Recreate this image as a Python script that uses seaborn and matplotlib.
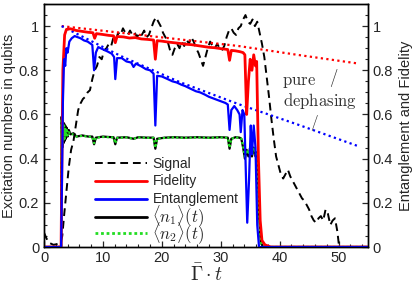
import matplotlib
matplotlib.use("Agg")
import matplotlib.pyplot as plt
from matplotlib.ticker import MultipleLocator
from matplotlib.lines import Line2D
import seaborn as sns

# ---------------- data ----------------
sig_t = [0, 0.4, 0.8, 1.2, 1.6, 2.0, 2.4, 2.8, 3.1, 3.4, 3.8, 4.2, 4.6, 5.0, 5.4, 5.8, 6.2, 6.6, 7.0,
         7.4, 7.8, 8.2, 8.6, 9.0, 9.4, 9.8, 10.2, 10.6, 11.0, 11.4, 11.8, 12.2, 12.6, 13.0, 13.4, 13.8,
         14.2, 14.6, 15.0, 15.4, 15.8, 16.2, 16.6, 17.0, 17.4, 17.8, 18.2, 18.6, 19.0, 19.4, 19.8, 20.2,
         20.6, 21.0, 21.4, 21.8, 22.2, 22.6, 23.0, 23.4, 23.8, 24.2, 24.6, 25.0, 25.4, 25.8, 26.2, 26.6,
         27.0, 27.4, 27.8, 28.2, 28.6, 29.0, 29.4, 29.8, 30.2, 30.6, 31.0, 31.4, 31.8, 32.2, 32.6, 33.0,
         33.4, 33.8, 34.2, 34.6, 35.0, 35.4, 35.8, 36.2, 36.6, 37.0, 37.4, 37.8, 38.2, 38.6, 39.0, 39.4,
         39.8, 40.2, 40.6, 41.0, 41.4, 41.8, 42.2, 42.6, 43.0, 43.4, 43.8, 44.2, 44.6, 45.0, 45.4, 45.8,
         46.2, 46.6, 47.0, 47.4, 47.8, 48.2, 48.6, 49.0, 49.4, 49.8, 50.1]
sig_v = [0.065, 0.04, 0.02, 0.015, 0.01, 0.012, 0.015, 0.02, 0.05, 0.14, 0.25, 0.36, 0.44, 0.48, 0.55,
         0.62, 0.65, 0.67, 0.68, 0.70, 0.71, 0.76, 0.80, 0.82, 0.86, 0.85, 0.89, 0.90, 0.92, 0.91, 0.95,
         0.94, 0.97, 0.96, 0.99, 0.97, 0.96, 0.98, 0.96, 0.97, 0.95, 0.97, 0.96, 0.98, 0.95, 0.96, 0.99,
         1.02, 1.04, 1.02, 1.00, 0.97, 0.95, 0.93, 0.89, 0.87, 0.90, 0.92, 0.90, 0.93, 0.91, 0.94, 0.92,
         0.95, 0.93, 0.90, 0.88, 0.85, 0.82, 0.86, 0.90, 0.93, 0.91, 0.90, 0.92, 0.90, 0.89, 0.91, 0.95,
         0.98, 0.99, 0.97, 0.96, 0.99, 1.00, 1.03, 1.05, 1.02, 1.01, 1.03, 1.00, 1.02, 0.97, 0.92, 0.86,
         0.77, 0.68, 0.58, 0.49, 0.41, 0.37, 0.33, 0.31, 0.33, 0.35, 0.32, 0.30, 0.28, 0.26, 0.24, 0.22,
         0.21, 0.19, 0.17, 0.14, 0.12, 0.11, 0.13, 0.14, 0.12, 0.17, 0.15, 0.10, 0.12, 0.13, 0.07, 0.0]

fid_t = [0, 2.9, 3.0, 3.2, 3.5, 3.8, 4.5, 5.5, 6.5, 7.5, 8.3, 8.6, 8.9, 10, 11, 11.8, 12.1, 12.4, 13.5,
         14.5, 15.5, 16.5, 17.5, 18.6, 18.9, 19.2, 20, 21, 22, 23, 24, 25, 26, 27, 28, 29, 30, 31.2,
         31.5, 31.8, 32.5, 33.3, 33.8, 34.1, 34.4, 34.7, 35.0, 35.3, 35.6, 35.9, 36.1, 36.4, 36.7, 37.0,
         37.5, 38.5, 55]
fid_v = [0, 0, 0.3, 0.8, 0.96, 0.985, 0.988, 0.98, 0.976, 0.972, 0.97, 0.945, 0.966, 0.962, 0.958,
         0.956, 0.925, 0.953, 0.951, 0.946, 0.948, 0.942, 0.94, 0.937, 0.85, 0.934, 0.932, 0.928, 0.925,
         0.922, 0.918, 0.916, 0.912, 0.908, 0.904, 0.902, 0.898, 0.894, 0.845, 0.89, 0.888, 0.884, 0.88,
         0.87, 0.6, 0.75, 0.85, 0.80, 0.87, 0.82, 0.84, 0.4, 0.12, 0.03, 0.01, 0.0, 0.0]

ent_t = [0, 2.9, 3.05, 3.2, 3.4, 3.6, 3.8, 4.0, 4.3, 4.7, 5.2, 5.7, 6.2, 6.8, 7.4, 8.2, 8.5, 8.8, 9.2,
         10, 10.8, 11.5, 11.9, 12.1, 12.4, 13.2, 14, 14.8, 15.2, 15.6, 16.5, 17.3, 18.0, 18.6, 18.9,
         19.2, 20, 21, 21.8, 22.5, 23.3, 24, 25, 25.8, 26.5, 27.3, 28, 28.8, 29.5, 30.2, 30.8, 31.2,
         31.5, 31.8, 32.3, 32.8, 33.2, 33.4, 33.7, 34.0, 34.3, 34.5, 34.8, 35.1, 35.3, 35.6, 35.9,
         36.2, 36.5, 55]
ent_v = [0, 0, 0.3, 0.65, 0.85, 0.82, 0.9, 0.88, 0.93, 0.945, 0.955, 0.95, 0.945, 0.935, 0.93, 0.915,
         0.80, 0.88, 0.905, 0.895, 0.885, 0.875, 0.86, 0.76, 0.855, 0.855, 0.84, 0.835, 0.815, 0.83,
         0.818, 0.805, 0.8, 0.785, 0.55, 0.775, 0.772, 0.76, 0.75, 0.745, 0.735, 0.728, 0.715, 0.705,
         0.7, 0.69, 0.68, 0.672, 0.665, 0.658, 0.652, 0.645, 0.53, 0.62, 0.638, 0.62, 0.6, 0.52, 0.62,
         0.6, 0.3, 0.11, 0.3, 0.55, 0.42, 0.55, 0.45, 0.1, 0.0, 0.0]

n_t = [0, 2.9, 3.0, 3.1, 3.2, 3.3, 3.4, 3.5, 3.6, 3.7, 3.85, 4.0, 4.2, 4.5, 5.0, 5.5, 6.5, 7.5, 8.2,
       8.5, 8.8, 10, 11, 11.8, 12.1, 12.4, 14, 15.2, 16, 17.5, 18.6, 18.9, 19.2, 20.5, 22, 24, 26, 28,
       30, 31.2, 31.5, 31.8, 32.5, 33.2, 33.5, 33.8, 34.1, 34.4, 34.7, 35.0, 35.3, 35.6, 35.9, 36.2,
       36.5, 36.8, 37.2, 55]
n1_v = [0, 0, 0.59, 0.45, 0.57, 0.47, 0.56, 0.48, 0.55, 0.49, 0.54, 0.50, 0.53, 0.51, 0.515, 0.50,
        0.505, 0.50, 0.50, 0.465, 0.495, 0.50, 0.498, 0.497, 0.465, 0.495, 0.497, 0.49, 0.497, 0.495,
        0.495, 0.445, 0.49, 0.495, 0.497, 0.495, 0.497, 0.495, 0.497, 0.495, 0.445, 0.49, 0.497,
        0.495, 0.49, 0.45, 0.40, 0.44, 0.41, 0.45, 0.41, 0.45, 0.41, 0.43, 0.15, 0.02, 0.0, 0.0]
n2_v = [0, 0, 0.58, 0.46, 0.56, 0.48, 0.55, 0.49, 0.54, 0.50, 0.53, 0.505, 0.52, 0.51, 0.51, 0.50,
        0.503, 0.50, 0.498, 0.47, 0.495, 0.498, 0.497, 0.496, 0.47, 0.494, 0.496, 0.49, 0.496, 0.494,
        0.494, 0.45, 0.49, 0.494, 0.496, 0.494, 0.496, 0.494, 0.496, 0.494, 0.45, 0.49, 0.496,
        0.494, 0.49, 0.455, 0.41, 0.44, 0.42, 0.45, 0.42, 0.45, 0.42, 0.43, 0.16, 0.02, 0.0, 0.0]

pd_t = [3, 13, 23, 33, 43, 53.5]
pd_fid = [1.0, 0.97, 0.94, 0.91, 0.87, 0.83]
pd_ent = [1.0, 0.865, 0.747, 0.647, 0.555, 0.455]

labels_a = ["Signal", "Fidelity", "Entanglement"]
labels_b = [r"$\langle n_1\rangle(t)$", r"$\langle n_2\rangle(t)$"]

# ---------------- style ----------------
sns.set_style("ticks")
plt.rcParams["font.family"] = ["Liberation Sans", "DejaVu Sans"]
plt.rcParams["mathtext.fontset"] = "cm"

fig = plt.figure(figsize=(4.16, 2.85), dpi=100)
ax = fig.add_axes([0.1058, 0.1333, 0.7788, 0.8526])
ax2 = ax.twinx()

RED, BLUE, GREEN = "#ff0000", "#0000ff", "#22dd22"

sns.lineplot(x=pd_t, y=pd_fid, ax=ax2, color=RED, lw=1.6, linestyle=(0, (1, 1.5)), sort=False)
sns.lineplot(x=pd_t, y=pd_ent, ax=ax2, color=BLUE, lw=1.6, linestyle=(0, (1, 1.5)), sort=False)
sns.lineplot(x=fid_t, y=fid_v, ax=ax2, color=RED, lw=2.0, sort=False)
sns.lineplot(x=ent_t, y=ent_v, ax=ax2, color=BLUE, lw=1.6, sort=False)
sns.lineplot(x=n_t, y=n1_v, ax=ax, color="black", lw=1.6, sort=False)
sns.lineplot(x=n_t, y=n2_v, ax=ax, color=GREEN, lw=1.6, linestyle=(0, (1, 1)), sort=False)
sns.lineplot(x=sig_t, y=sig_v, ax=ax, color="black", lw=1.4, linestyle=(0, (4, 2.5)), sort=False)

for a in (ax, ax2):
    a.set_xlim(0, 55)
    a.set_ylim(0, 1.1)
    a.yaxis.set_minor_locator(MultipleLocator(0.05))
    a.tick_params(which="both", direction="in", labelsize=10.5)
    a.tick_params(which="major", length=4, width=0.9)
    a.tick_params(which="minor", length=2, width=0.8)
    a.set_yticks([0, 0.2, 0.4, 0.6, 0.8, 1.0])
    a.set_yticklabels(["0", "0.2", "0.4", "0.6", "0.8", "1"])
    for s in a.spines.values():
        s.set_linewidth(1.0)
        s.set_color("black")
ax.xaxis.set_major_locator(MultipleLocator(10))
ax.xaxis.set_minor_locator(MultipleLocator(2))
ax.tick_params(axis="x", pad=3)

ax.set_xlabel(r"$\bar{\Gamma}\cdot t$", fontsize=14, labelpad=-1)
ax.set_ylabel("Excitation numbers in qubits", fontsize=10.5, labelpad=2)
ax2.set_ylabel("Entanglement and Fidelity", fontsize=10.5, labelpad=4)

TXT = "#333333"
ax2.text(43.3, 0.745, r"$\mathrm{pure}$", fontsize=12, ha="center", va="center", color=TXT)
ax2.text(46.8, 0.66, r"$\mathrm{dephasing}$", fontsize=12, ha="center", va="center", color=TXT)
ax2.text(49.1, 0.765, r"$/$", fontsize=12, ha="center", va="center", color=TXT)
ax2.text(45.9, 0.56, r"$/$", fontsize=11, ha="center", va="center", color=TXT)

handles_a = [
    Line2D([], [], color="black", lw=1.4, linestyle=(0, (4, 2.5))),
    Line2D([], [], color=RED, lw=2.0),
    Line2D([], [], color=BLUE, lw=2.0),
]
handles_b = [
    Line2D([], [], color="black", lw=2.0),
    Line2D([], [], color=GREEN, lw=2.0, linestyle=(0, (1, 1))),
]
leg_a = ax2.legend(handles_a, labels_a, loc="upper left", bbox_to_anchor=(0.14, 0.395), frameon=False,
                   fontsize=10, handlelength=3.75, handletextpad=0.4, labelspacing=0.28,
                   borderaxespad=0)
ax2.add_artist(leg_a)
ax2.legend(handles_b, labels_b, loc="upper left", bbox_to_anchor=(0.14, 0.202), frameon=False,
           fontsize=12, handlelength=3.1, handletextpad=0.33, labelspacing=-0.54, borderaxespad=0,
           borderpad=0.33)

fig.savefig("out.png", dpi=100)
